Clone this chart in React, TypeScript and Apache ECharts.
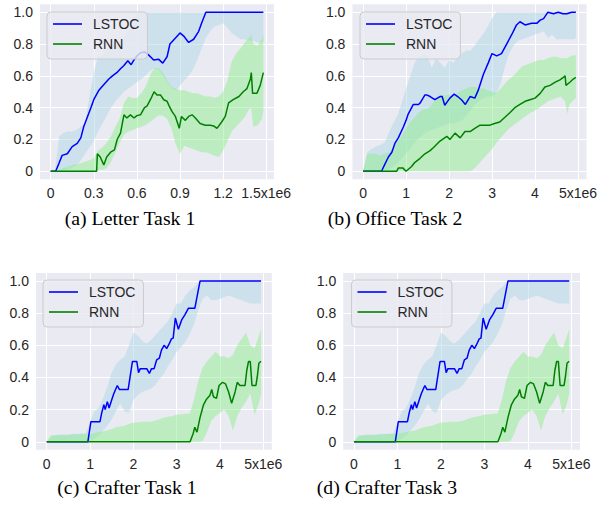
import React, { useEffect, useRef } from 'react';
import * as echarts from 'echarts';

// ---------------- data ----------------
const yTicks = ['0', '0.2', '0.4', '0.6', '0.8', '1.0'];
const letterXTicks = ['0', '0.3', '0.6', '0.9', '1.2', '1.5x1e6'];
const stepXTicks = ['0', '1', '2', '3', '4', '5x1e6'];
const seriesNames = ['LSTOC', 'RNN'];
const captions = ['(a) Letter Task 1', '(b) Office Task 2', '(c) Crafter Task 1', '(d) Crafter Task 3'];

// (a) Letter Task 1 (x in 1e6 steps)
const letterX = [0, 0.03, 0.06, 0.09, 0.12, 0.15, 0.18, 0.21, 0.24, 0.27, 0.3, 0.33, 0.36, 0.39, 0.42, 0.45, 0.48, 0.51, 0.54, 0.57, 0.6, 0.63, 0.66, 0.69, 0.72, 0.75, 0.78, 0.81, 0.84, 0.87, 0.9, 0.93, 0.96, 0.99, 1.02, 1.05, 1.08, 1.11, 1.14, 1.17, 1.2, 1.23, 1.26, 1.29, 1.32, 1.35, 1.38, 1.395, 1.41, 1.44, 1.47, 1.48];
const letterLstocLow = [0, 0, 0, 0, 0.01, 0.02, 0.04, 0.07, 0.11, 0.15, 0.19, 0.25, 0.3, 0.35, 0.4, 0.44, 0.47, 0.5, 0.52, 0.54, 0.56, 0.58, 0.6, 0.63, 0.65, 0.64, 0.6, 0.56, 0.52, 0.51, 0.54, 0.57, 0.6, 0.64, 0.7, 0.77, 0.84, 0.88, 0.91, 0.92, 0.93, 0.9, 0.87, 0.85, 0.83, 0.83, 0.82, 0.82, 0.82, 0.81, 0.81, 0.82];
const letterLstocHigh = [0, 0, 0.22, 0.24, 0.25, 0.25, 0.26, 0.28, 0.3, 0.47, 0.62, 0.72, 0.73, 0.76, 0.79, 0.8, 0.81, 0.84, 0.88, 0.95, 0.99, 1, 1, 1, 1, 1, 1, 1, 1, 1, 1, 1, 1, 1, 1, 1, 1, 1, 1, 1, 1, 1, 1, 1, 1, 1, 1, 1, 1, 1, 1, 1];
const letterRnnLow = [0, 0, 0, 0, 0, 0, 0, 0, 0, 0, 0, 0.01, 0.01, 0.02, 0.06, 0.12, 0.18, 0.23, 0.25, 0.26, 0.27, 0.28, 0.29, 0.31, 0.33, 0.35, 0.35, 0.33, 0.27, 0.17, 0.11, 0.16, 0.15, 0.14, 0.13, 0.12, 0.12, 0.11, 0.1, 0.09, 0.13, 0.19, 0.25, 0.28, 0.31, 0.34, 0.39, 0.4, 0.28, 0.29, 0.33, 0.38];
const letterRnnHigh = [0, 0.005, 0.01, 0.02, 0.03, 0.04, 0.045, 0.05, 0.06, 0.07, 0.08, 0.13, 0.15, 0.18, 0.22, 0.28, 0.33, 0.43, 0.47, 0.46, 0.46, 0.49, 0.53, 0.6, 0.65, 0.65, 0.62, 0.57, 0.53, 0.52, 0.51, 0.51, 0.5, 0.49, 0.49, 0.48, 0.47, 0.47, 0.46, 0.47, 0.5, 0.57, 0.69, 0.74, 0.77, 0.81, 0.84, 0.86, 0.8, 0.79, 0.83, 0.86];
const letterLstocMean = [[0, 0], [0.035, 0], [0.058, 0.05], [0.08, 0.1], [0.116, 0.11], [0.15, 0.155], [0.185, 0.175], [0.21, 0.21], [0.23, 0.28], [0.255, 0.34], [0.28, 0.4], [0.3, 0.45], [0.336, 0.51], [0.36, 0.535], [0.38, 0.555], [0.405, 0.58], [0.43, 0.6], [0.46, 0.62], [0.486, 0.645], [0.51, 0.665], [0.537, 0.695], [0.56, 0.67], [0.58, 0.7], [0.6, 0.725], [0.625, 0.745], [0.653, 0.75], [0.683, 0.73], [0.717, 0.7], [0.75, 0.705], [0.78, 0.68], [0.81, 0.72], [0.83, 0.8], [0.87, 0.84], [0.9, 0.87], [0.926, 0.85], [0.96, 0.81], [0.995, 0.83], [1.03, 0.88], [1.05, 0.93], [1.08, 1], [1.48, 1]];
const letterRnnMean = [[0, 0], [0.32, 0], [0.325, 0.11], [0.345, 0.09], [0.37, 0.04], [0.39, 0.09], [0.417, 0.12], [0.444, 0.135], [0.463, 0.2], [0.486, 0.24], [0.51, 0.355], [0.53, 0.335], [0.555, 0.355], [0.58, 0.335], [0.6, 0.35], [0.625, 0.355], [0.653, 0.4], [0.67, 0.41], [0.694, 0.45], [0.72, 0.5], [0.74, 0.48], [0.764, 0.48], [0.787, 0.45], [0.81, 0.44], [0.825, 0.41], [0.845, 0.375], [0.868, 0.345], [0.895, 0.27], [0.91, 0.345], [0.937, 0.32], [0.96, 0.345], [0.984, 0.355], [1.007, 0.335], [1.04, 0.3], [1.076, 0.29], [1.11, 0.29], [1.134, 0.285], [1.157, 0.27], [1.19, 0.31], [1.215, 0.345], [1.238, 0.43], [1.27, 0.45], [1.31, 0.47], [1.34, 0.5], [1.366, 0.52], [1.39, 0.58], [1.396, 0.62], [1.405, 0.49], [1.435, 0.49], [1.458, 0.54], [1.48, 0.62]];

// (b) Office Task 2
const officeX = [0, 0.1, 0.2, 0.3, 0.4, 0.5, 0.6, 0.7, 0.8, 0.9, 1, 1.1, 1.2, 1.3, 1.4, 1.5, 1.6, 1.7, 1.8, 1.9, 2, 2.1, 2.2, 2.3, 2.4, 2.5, 2.6, 2.7, 2.8, 2.9, 3, 3.1, 3.2, 3.3, 3.4, 3.5, 3.6, 3.7, 3.8, 3.9, 4, 4.1, 4.2, 4.3, 4.4, 4.5, 4.6, 4.7, 4.75, 4.8, 4.9, 4.95];
const officeLstocLow = [0, 0, 0, 0, 0, 0, 0.01, 0.03, 0.05, 0.08, 0.11, 0.14, 0.18, 0.21, 0.23, 0.25, 0.26, 0.27, 0.28, 0.29, 0.3, 0.3, 0.31, 0.32, 0.35, 0.38, 0.42, 0.44, 0.46, 0.47, 0.47, 0.49, 0.55, 0.66, 0.74, 0.79, 0.82, 0.83, 0.84, 0.85, 0.86, 0.87, 0.88, 0.84, 0.86, 0.83, 0.83, 0.83, 0.83, 0.83, 0.83, 0.84];
const officeLstocHigh = [0, 0.12, 0.14, 0.155, 0.165, 0.18, 0.24, 0.3, 0.35, 0.43, 0.52, 0.6, 0.68, 0.72, 0.74, 0.72, 0.65, 0.71, 0.68, 0.65, 0.7, 0.68, 0.72, 0.74, 0.76, 0.76, 0.79, 0.83, 0.865, 0.91, 0.96, 1, 1, 1, 1, 1, 1, 1, 1, 1, 1, 1, 1, 1, 1, 1, 1, 1, 1, 1, 1, 1];
const officeRnnLow = [0, 0, 0, 0, 0, 0, 0, 0, 0, 0, 0, 0, 0, 0, 0, 0, 0, 0, 0, 0, 0, 0, 0, 0, 0, 0, 0.02, 0.05, 0.08, 0.11, 0.14, 0.18, 0.21, 0.24, 0.27, 0.29, 0.31, 0.33, 0.35, 0.37, 0.38, 0.4, 0.42, 0.44, 0.45, 0.46, 0.47, 0.44, 0.36, 0.42, 0.45, 0.46];
const officeRnnHigh = [0, 0.11, 0.11, 0.11, 0.1, 0.11, 0.12, 0.15, 0.19, 0.22, 0.27, 0.31, 0.34, 0.37, 0.39, 0.39, 0.42, 0.46, 0.48, 0.48, 0.48, 0.47, 0.49, 0.51, 0.52, 0.53, 0.53, 0.52, 0.52, 0.51, 0.5, 0.49, 0.52, 0.55, 0.58, 0.6, 0.63, 0.66, 0.67, 0.68, 0.69, 0.7, 0.7, 0.71, 0.72, 0.72, 0.71, 0.71, 0.71, 0.72, 0.73, 0.73];
const officeLstocMean = [[0, 0], [0.43, 0], [0.5, 0.04], [0.59, 0.09], [0.67, 0.12], [0.74, 0.175], [0.82, 0.21], [0.94, 0.28], [1, 0.32], [1.05, 0.36], [1.17, 0.42], [1.29, 0.42], [1.33, 0.43], [1.44, 0.48], [1.48, 0.48], [1.56, 0.47], [1.67, 0.45], [1.79, 0.47], [1.84, 0.47], [1.9, 0.415], [2.02, 0.46], [2.12, 0.485], [2.2, 0.47], [2.29, 0.45], [2.38, 0.42], [2.49, 0.47], [2.6, 0.46], [2.68, 0.51], [2.8, 0.61], [2.91, 0.68], [3, 0.74], [3.11, 0.725], [3.22, 0.74], [3.34, 0.8], [3.46, 0.86], [3.57, 0.92], [3.65, 0.94], [3.77, 0.92], [3.92, 0.93], [4.04, 0.93], [4.12, 0.95], [4.2, 0.96], [4.3, 1], [4.43, 0.99], [4.54, 1], [4.65, 0.99], [4.74, 0.99], [4.85, 1], [4.95, 1]];
const officeRnnMean = [[0, 0], [0.78, 0], [0.82, 0.02], [0.93, 0.02], [1, 0], [1.13, 0.03], [1.2, 0.055], [1.32, 0.08], [1.44, 0.11], [1.56, 0.13], [1.64, 0.15], [1.79, 0.19], [1.95, 0.22], [2.02, 0.2], [2.14, 0.24], [2.26, 0.21], [2.37, 0.25], [2.49, 0.25], [2.6, 0.27], [2.72, 0.29], [2.84, 0.29], [2.95, 0.29], [3.06, 0.3], [3.18, 0.31], [3.3, 0.34], [3.42, 0.37], [3.53, 0.4], [3.65, 0.42], [3.77, 0.44], [3.88, 0.45], [4, 0.46], [4.12, 0.49], [4.23, 0.53], [4.35, 0.54], [4.47, 0.56], [4.58, 0.575], [4.66, 0.59], [4.7, 0.6], [4.72, 0.54], [4.81, 0.56], [4.89, 0.58], [4.95, 0.59]];

// (c) Crafter Task 1 and (d) Crafter Task 3 (the two panels show the same curves)
const crafterX = [0, 0.1, 0.2, 0.3, 0.4, 0.5, 0.6, 0.7, 0.8, 0.9, 1, 1.1, 1.2, 1.3, 1.4, 1.5, 1.6, 1.7, 1.8, 1.9, 2, 2.1, 2.2, 2.3, 2.4, 2.5, 2.6, 2.7, 2.8, 2.9, 3, 3.1, 3.2, 3.3, 3.4, 3.5, 3.6, 3.7, 3.8, 3.9, 4, 4.1, 4.2, 4.3, 4.4, 4.5, 4.6, 4.7, 4.8, 4.9, 4.95];
const crafterLstocLow = [0, 0, 0, 0, 0, 0, 0, 0, 0, 0, 0, 0.02, 0.04, 0.07, 0.1, 0.14, 0.19, 0.24, 0.19, 0.18, 0.26, 0.29, 0.31, 0.32, 0.33, 0.35, 0.39, 0.42, 0.47, 0.51, 0.56, 0.59, 0.62, 0.67, 0.73, 0.82, 0.89, 0.91, 0.88, 0.88, 0.89, 0.9, 0.91, 0.9, 0.89, 0.88, 0.87, 0.86, 0.86, 0.86, 0.86];
const crafterLstocHigh = [0, 0.03, 0.04, 0.045, 0.045, 0.045, 0.05, 0.05, 0.05, 0.05, 0.12, 0.19, 0.21, 0.27, 0.34, 0.43, 0.48, 0.51, 0.53, 0.6, 0.68, 0.66, 0.63, 0.61, 0.63, 0.66, 0.69, 0.72, 0.75, 0.8, 0.86, 0.86, 0.91, 0.94, 0.96, 0.99, 1, 1, 1, 1, 1, 1, 1, 1, 1, 1, 1, 1, 1, 1, 1];
const crafterRnnLow = [0, 0, 0, 0, 0, 0, 0, 0, 0, 0, 0, 0, 0, 0, 0, 0, 0, 0, 0, 0, 0, 0, 0, 0, 0, 0, 0, 0, 0, 0, 0, 0, 0, 0, 0, 0, 0.005, 0.06, 0.13, 0.16, 0.18, 0.2, 0.16, 0.07, 0.16, 0.21, 0.25, 0.3, 0.17, 0.24, 0.3];
const crafterRnnHigh = [0, 0.04, 0.04, 0.04, 0.04, 0.04, 0.045, 0.045, 0.05, 0.05, 0.05, 0.055, 0.06, 0.065, 0.07, 0.08, 0.09, 0.095, 0.1, 0.11, 0.12, 0.12, 0.125, 0.125, 0.125, 0.13, 0.14, 0.15, 0.155, 0.16, 0.17, 0.17, 0.175, 0.175, 0.26, 0.38, 0.46, 0.5, 0.53, 0.56, 0.53, 0.53, 0.52, 0.54, 0.6, 0.64, 0.68, 0.6, 0.58, 0.66, 0.7];
const crafterLstocMean = [[0, 0], [0.95, 0], [1.02, 0.125], [1.23, 0.125], [1.27, 0.18], [1.32, 0.23], [1.35, 0.2], [1.4, 0.25], [1.44, 0.21], [1.5, 0.26], [1.55, 0.3], [1.63, 0.35], [1.68, 0.325], [1.88, 0.325], [1.98, 0.5], [2.08, 0.5], [2.12, 0.43], [2.16, 0.455], [2.31, 0.455], [2.37, 0.425], [2.42, 0.455], [2.48, 0.455], [2.54, 0.51], [2.6, 0.52], [2.65, 0.57], [2.71, 0.6], [2.77, 0.58], [2.83, 0.61], [2.88, 0.64], [2.92, 0.645], [2.97, 0.77], [3.04, 0.7], [3.12, 0.76], [3.19, 0.79], [3.27, 0.83], [3.42, 0.83], [3.54, 1], [4.95, 1]];
const crafterRnnMean = [[0, 0], [3.31, 0], [3.38, 0.05], [3.42, 0.09], [3.47, 0.06], [3.54, 0.15], [3.62, 0.23], [3.69, 0.265], [3.77, 0.29], [3.81, 0.325], [3.85, 0.28], [3.92, 0.27], [3.98, 0.35], [4.06, 0.37], [4.13, 0.36], [4.2, 0.31], [4.27, 0.24], [4.35, 0.31], [4.4, 0.37], [4.46, 0.35], [4.58, 0.35], [4.62, 0.445], [4.66, 0.5], [4.7, 0.5], [4.74, 0.35], [4.83, 0.35], [4.86, 0.4], [4.9, 0.49], [4.95, 0.5]];

// ---------------- layout / style ----------------
const BG = '#EAEAF2';
const BLUE_BAND = 'rgba(173,216,230,0.5)';
const GREEN_BAND = 'rgba(144,238,144,0.5)';
const BLUE = '#0000ff';
const GREEN = '#008000';
const SANS = 'Liberation Sans, Arial, sans-serif';
const SERIF = 'Liberation Serif, Times New Roman, serif';

type Panel = {
  grid: { left: number; top: number; width: number; height: number };
  xMin: number; xMax: number; xStep: number; xLabels: string[];
  x: number[]; lLow: number[]; lHigh: number[]; rLow: number[]; rHigh: number[];
  lMean: number[][]; rMean: number[][];
  legend: { left: number; top: number };
  caption: { x: number; y: number };
};

const panels: Panel[] = [
  {
    grid: { left: 40, top: 4.25, width: 234, height: 175 },
    xMin: -0.074, xMax: 1.554, xStep: 0.3, xLabels: letterXTicks,
    x: letterX, lLow: letterLstocLow, lHigh: letterLstocHigh, rLow: letterRnnLow, rHigh: letterRnnHigh,
    lMean: letterLstocMean, rMean: letterRnnMean,
    legend: { left: 47, top: 12 }, caption: { x: 130, y: 219 },
  },
  {
    grid: { left: 352.4, top: 4.25, width: 234.1, height: 175 },
    xMin: -0.2475, xMax: 5.1975, xStep: 1, xLabels: stepXTicks,
    x: officeX, lLow: officeLstocLow, lHigh: officeLstocHigh, rLow: officeRnnLow, rHigh: officeRnnHigh,
    lMean: officeLstocMean, rMean: officeRnnMean,
    legend: { left: 360, top: 12 }, caption: { x: 395, y: 219 },
  },
  {
    grid: { left: 36, top: 273, width: 235.8, height: 176.8 },
    xMin: -0.2475, xMax: 5.1975, xStep: 1, xLabels: stepXTicks,
    x: crafterX, lLow: crafterLstocLow, lHigh: crafterLstocHigh, rLow: crafterRnnLow, rHigh: crafterRnnHigh,
    lMean: crafterLstocMean, rMean: crafterRnnMean,
    legend: { left: 43, top: 280 }, caption: { x: 127, y: 488 },
  },
  {
    grid: { left: 343.2, top: 273, width: 236.8, height: 176.8 },
    xMin: -0.2475, xMax: 5.1975, xStep: 1, xLabels: stepXTicks,
    x: crafterX, lLow: crafterLstocLow, lHigh: crafterLstocHigh, rLow: crafterRnnLow, rHigh: crafterRnnHigh,
    lMean: crafterLstocMean, rMean: crafterRnnMean,
    legend: { left: 351.5, top: 280 }, caption: { x: 387, y: 488 },
  },
];

const labelFormatter = (labels: string[], step: number) => (v: number) => {
  const i = Math.round(v / step);
  if (Math.abs(v - i * step) > 1e-6 || i < 0 || i >= labels.length) return '';
  return labels[i];
};

function bandSeries(p: Panel, idx: number, lo: number[], hi: number[], fill: string, name: string) {
  return {
    type: 'custom',
    name,
    xAxisIndex: idx,
    yAxisIndex: idx,
    silent: true,
    z: 2,
    data: [[0, 0]],
    renderItem: (_params: any, api: any) => {
      const pts: number[][] = [];
      for (let k = 0; k < p.x.length; k++) pts.push(api.coord([p.x[k], hi[k]]));
      for (let k = p.x.length - 1; k >= 0; k--) pts.push(api.coord([p.x[k], lo[k]]));
      return { type: 'polygon', shape: { points: pts }, style: { fill, stroke: null } };
    },
  };
}

function buildOption() {
  const grid: any[] = [];
  const xAxis: any[] = [];
  const yAxis: any[] = [];
  const series: any[] = [];
  const legend: any[] = [];
  const graphic: any[] = [];

  panels.forEach((p, i) => {
    grid.push({ ...p.grid, show: true, backgroundColor: BG, borderWidth: 0, containLabel: false });
    xAxis.push({
      type: 'value', gridIndex: i, min: p.xMin, max: p.xMax,
      axisLine: { show: false }, axisTick: { show: false },
      splitLine: { show: true, showMinLine: false, showMaxLine: false, lineStyle: { color: '#ffffff', width: 1 } },
      axisLabel: { formatter: labelFormatter(p.xLabels, p.xStep), fontSize: 14, color: '#262626', fontFamily: SANS, margin: 7, showMinLabel: false, showMaxLabel: false },
    });
    yAxis.push({
      type: 'value', gridIndex: i, min: -0.05, max: 1.05,
      axisLine: { show: false }, axisTick: { show: false },
      splitLine: { show: true, showMinLine: false, showMaxLine: false, lineStyle: { color: '#ffffff', width: 1 } },
      axisLabel: { formatter: labelFormatter(yTicks, 0.2), fontSize: 14, color: '#262626', fontFamily: SANS, margin: 7, showMinLabel: false, showMaxLabel: false },
    });
    series.push(bandSeries(p, i, p.lLow, p.lHigh, BLUE_BAND, 'LSTOC band'));
    series.push(bandSeries(p, i, p.rLow, p.rHigh, GREEN_BAND, 'RNN band'));
    series.push({
      type: 'line', name: seriesNames[0], xAxisIndex: i, yAxisIndex: i, data: p.lMean,
      showSymbol: false, symbol: 'none', z: 3, silent: true,
      lineStyle: { color: BLUE, width: 1.5 }, itemStyle: { color: BLUE },
    });
    series.push({
      type: 'line', name: seriesNames[1], xAxisIndex: i, yAxisIndex: i, data: p.rMean,
      showSymbol: false, symbol: 'none', z: 3, silent: true,
      lineStyle: { color: GREEN, width: 1.5 }, itemStyle: { color: GREEN },
    });
    legend.push({
      orient: 'vertical', left: p.legend.left, top: p.legend.top, data: seriesNames,
      icon: 'rect', itemWidth: 29, itemHeight: 1.6, itemGap: 6, padding: [5, 8, 8, 6],
      backgroundColor: 'rgba(234,234,242,0.8)', borderColor: '#cccccc', borderWidth: 1, borderRadius: 4,
      textStyle: { fontSize: 14, color: '#262626', fontFamily: SANS, padding: [0, 0, 0, 6] },
      selectedMode: false, z: 10,
    });
    graphic.push({
      type: 'text', x: p.caption.x, y: p.caption.y, scaleX: 1.1,
      style: {
        text: captions[i], fontSize: 18, fontFamily: SERIF, fill: '#000',
        textAlign: 'center', textVerticalAlign: 'middle', align: 'center', verticalAlign: 'middle',
      },
    });
  });

  return {
    animation: false,
    backgroundColor: '#ffffff',
    textStyle: { fontFamily: SANS },
    grid, xAxis, yAxis, series, legend, graphic,
  };
}

export default function App() {
  const ref = useRef<HTMLDivElement>(null);
  useEffect(() => {
    if (!ref.current) return;
    const chart = echarts.init(ref.current, null, { renderer: 'svg' });
    chart.setOption(buildOption() as any);
    return () => chart.dispose();
  }, []);
  return (
    <div
      ref={ref}
      style={{ position: 'fixed', left: 0, top: 0, width: 608, height: 508, background: '#ffffff' }}
    />
  );
}
